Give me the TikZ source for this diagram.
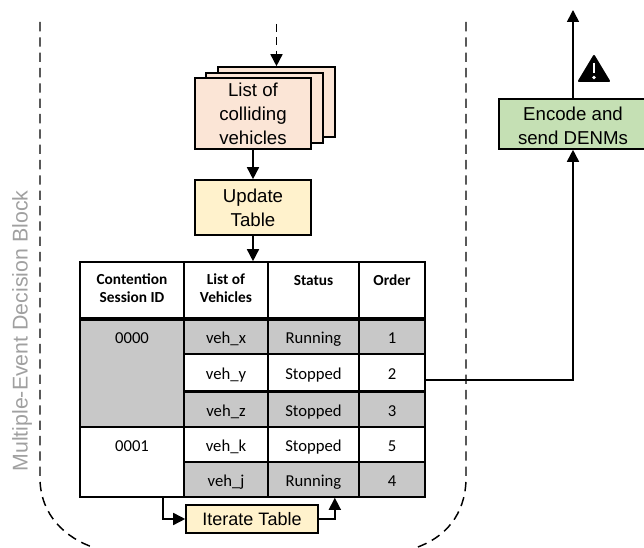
\documentclass[tikz,border=0pt]{standalone}
\usepackage{amsmath}
\usepackage{fontspec}
\usepackage{tikz}
\usetikzlibrary{arrows.meta}
\setmainfont{Liberation Sans}
\newfontfamily\tablefont{Carlito}
\definecolor{listfill}{RGB}{251,229,214}
\definecolor{tablefill}{RGB}{255,242,204}
\definecolor{encfill}{RGB}{197,224,180}
\definecolor{cellgrey}{RGB}{200,200,200}
\definecolor{blocktext}{RGB}{160,160,160}
\tikzset{
  flowbox/.style={draw=black,line width=1.2pt,align=center,inner sep=0pt,font=\fontsize{14}{18}\selectfont},
  cellbox/.style={draw=black,line width=1.2pt,inner sep=0pt,align=center,font=\tablefont\fontsize{12.5}{16}\selectfont,text height=11pt,text depth=1.2pt},
  sestext/.style={inner sep=0pt,font=\tablefont\fontsize{12.5}{16}\selectfont,text height=11pt,text depth=1.2pt},
  headbox/.style={draw=black,line width=1.2pt,inner sep=0pt,align=center,font=\tablefont\bfseries\fontsize{11.5}{14.5}\selectfont},
  arr/.style={line width=1.2pt,-{Triangle[width=9pt,length=9pt]}},
}
\begin{document}
\begin{tikzpicture}[x=0.75pt,y=0.75pt,yscale=-1,xscale=1]
        \useasboundingbox (0,0) rectangle (644,548);

        %Block outline
        \draw [line width=1.1pt,dash pattern=on 7pt off 4.5pt] (40,22) -- (40,480) .. controls (41,515) and (65,538) .. (95,548) ;
        \draw [line width=1.1pt,dash pattern=on 7pt off 4.5pt] (466,22) -- (466,480) .. controls (465,515) and (445,538) .. (415,548) ;
        % Text Node
        \draw (22,331) node [rotate=90,text=blocktext,inner sep=0pt,font=\fontsize{16}{18}\selectfont] (blocklabel) {Multiple-Event Decision Block};

        %List stack
        \draw (276.5,102) node [flowbox,fill=listfill,minimum width=87.75pt,minimum height=52.5pt] (list3) {};
        \draw (264.5,108) node [flowbox,fill=listfill,minimum width=87.75pt,minimum height=52.5pt] (list2) {};
        \draw (253,113.5) node [flowbox,fill=listfill,minimum width=87pt,minimum height=53pt] (list1) {List of\\colliding\\vehicles};
        %Update box
        \draw (253,207.5) node [flowbox,fill=tablefill,minimum width=87pt,minimum height=41.25pt] (update) {Update\\Table};

        %Table header
        \draw (132,290) node [headbox,minimum width=78pt,minimum height=42pt,anchor=center] (headses) {\raisebox{6pt}{\begin{tabular}{@{}c@{}}Contention\\[-1pt]Session ID\end{tabular}}};
        \draw (226,290) node [headbox,minimum width=63pt,minimum height=42pt] (headveh) {\raisebox{6pt}{\begin{tabular}{@{}c@{}}List of\\[-1pt]Vehicles\end{tabular}}};
        \draw (313.5,290) node [headbox,minimum width=68.25pt,minimum height=42pt] (headsta) {\raisebox{15pt}{Status}};
        \draw (392,290) node [headbox,minimum width=49.5pt,minimum height=42pt] (headord) {\raisebox{15pt}{Order}};
        %Session cells
        \draw (132,373.5) node [headbox,fill=cellgrey,minimum width=78pt,minimum height=80.25pt] (ses0) {};
        \draw (132,337) node [sestext] (ses0text) {0000};
        \draw (132,462) node [headbox,fill=white,minimum width=78pt,minimum height=52.5pt] (ses1) {};
        \draw (132,444.5) node [sestext] (ses1text) {0001};
        %Row x
        \draw (226,337) node [cellbox,fill=cellgrey,minimum width=63pt,minimum height=25.5pt] (vehx) {veh\_x};
        \draw (313.5,337) node [cellbox,fill=cellgrey,minimum width=68.25pt,minimum height=25.5pt] (stax) {Running};
        \draw (392,337) node [cellbox,fill=cellgrey,minimum width=49.5pt,minimum height=25.5pt] (ordx) {1};
        %Row y
        \draw (226,372.5) node [cellbox,fill=white,minimum width=63pt,minimum height=27.75pt] (vehy) {veh\_y};
        \draw (313.5,372.5) node [cellbox,fill=white,minimum width=68.25pt,minimum height=27.75pt] (stay) {Stopped};
        \draw (392,372.5) node [cellbox,fill=white,minimum width=49.5pt,minimum height=27.75pt] (ordy) {2};
        %Row z
        \draw (226,409.5) node [cellbox,fill=cellgrey,minimum width=63pt,minimum height=26.25pt] (vehz) {veh\_z};
        \draw (313.5,409.5) node [cellbox,fill=cellgrey,minimum width=68.25pt,minimum height=26.25pt] (staz) {Stopped};
        \draw (392,409.5) node [cellbox,fill=cellgrey,minimum width=49.5pt,minimum height=26.25pt] (ordz) {3};
        %Row k
        \draw (226,444.5) node [cellbox,fill=white,minimum width=63pt,minimum height=26.25pt] (vehk) {veh\_k};
        \draw (313.5,444.5) node [cellbox,fill=white,minimum width=68.25pt,minimum height=26.25pt] (stak) {Stopped};
        \draw (392,444.5) node [cellbox,fill=white,minimum width=49.5pt,minimum height=26.25pt] (ordk) {5};
        %Row j
        \draw (226,479.5) node [cellbox,fill=cellgrey,minimum width=63pt,minimum height=26.25pt] (vehj) {veh\_j};
        \draw (313.5,479.5) node [cellbox,fill=cellgrey,minimum width=68.25pt,minimum height=26.25pt] (staj) {Running};
        \draw (392,479.5) node [cellbox,fill=cellgrey,minimum width=49.5pt,minimum height=26.25pt] (ordj) {4};

        %Iterate box
        \draw (252,519) node [flowbox,fill=tablefill,minimum width=99pt,minimum height=21pt,font=\fontsize{13.5}{18}\selectfont] (iterate) {Iterate Table};
        %Encode box
        \draw (573,124) node [flowbox,fill=encfill,minimum width=111pt,minimum height=37.5pt] (encode) {\rule{0pt}{13pt}Encode and\\send DENMs};

        %Free ends
        \coordinate (listin) at (276.5,24);
        \coordinate (sendout) at (573,10);

        %Connectors
        \draw [arr,dash pattern=on 6pt off 4pt] (listin) -- (list3.north);
        \draw [arr] (list1.south) -- (update.north);
        \draw [arr] (update.south) -- (headveh.north -| update.south);
        \draw [arr] ([xshift=23.25pt]ses1.south) |- (iterate.west);
        \draw [arr] (iterate.east) -| ([xshift=16pt]staj.south);
        \draw [arr] ([yshift=5.6pt]ordy.east) -| (encode.south);
        \draw [arr] (encode.north) -- (sendout);

        %Warning sign
        \draw [fill=black,line width=1.5pt,line join=round] (594,56) -- (609,81) -- (579,81) -- cycle;
        \draw [white,line width=2.2pt] (594,63) -- (594,73);
        \fill [white] (594,77.5) circle [radius=1.9];
\end{tikzpicture}
\end{document}
